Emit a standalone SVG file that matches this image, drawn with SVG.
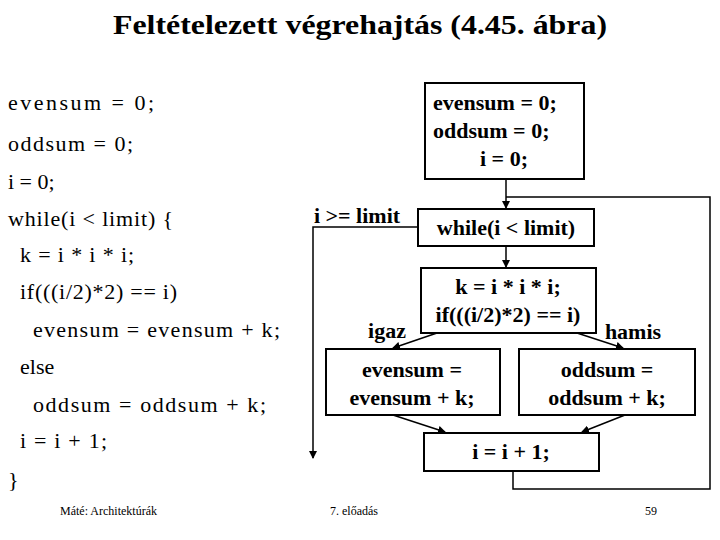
<svg xmlns="http://www.w3.org/2000/svg" width="720" height="540" viewBox="0 0 720 540" font-family="Liberation Serif, Times New Roman, serif">
<defs><marker id="a" markerWidth="8" markerHeight="8" refX="7" refY="4" orient="auto" markerUnits="userSpaceOnUse"><path d="M0,0 L8,4 L0,8 z" fill="#000"/></marker>
<style>
text{font-family:'Liberation Serif','Times New Roman',serif;fill:#000}
.t{font-size:28px;font-weight:bold}
.c{font-size:22px}
.b{font-size:22px;font-weight:bold}
.n{fill:#fff;stroke:#000;stroke-width:2}
.l{fill:none;stroke:#000;stroke-width:1.5}
.f{font-size:12px}
</style></defs>
<rect width="720" height="540" fill="#fff"/>
<text class="t" x="360" y="34" text-anchor="middle" textLength="494" lengthAdjust="spacingAndGlyphs">Feltételezett végrehajtás (4.45. ábra)</text>
<g id="code" class="c">
<text x="8" y="110" textLength="146">evensum = 0;</text>
<text x="8" y="151" textLength="125">oddsum = 0;</text>
<text x="8" y="189">i = 0;</text>
<text x="8" y="226" textLength="165">while(i &lt; limit) {</text>
<text x="20" y="262" textLength="114">k = i * i * i;</text>
<text x="20" y="299" textLength="157">if(((i/2)*2) == i)</text>
<text x="33" y="337" textLength="247">evensum = evensum + k;</text>
<text x="20" y="374">else</text>
<text x="33" y="412" textLength="233">oddsum = oddsum + k;</text>
<text x="20" y="448" textLength="87">i = i + 1;</text>
<text x="8" y="487">}</text>
</g>
<g id="connectors" class="l">
<line x1="506" y1="179" x2="506" y2="208" marker-end="url(#a)"/>
<line x1="506" y1="246" x2="506" y2="267" marker-end="url(#a)"/>
<polyline points="418,227 313,227 313,458" marker-end="url(#a)"/>
<line x1="437" y1="333" x2="393" y2="348" marker-end="url(#a)"/>
<line x1="577" y1="333" x2="623" y2="348" marker-end="url(#a)"/>
<line x1="393" y1="415" x2="445" y2="432" marker-end="url(#a)"/>
<line x1="625" y1="415" x2="582" y2="432" marker-end="url(#a)"/>
<polyline points="513,471 513,489 710,489 710,197 506,197"/>
</g>
<g id="init"><rect class="n" x="425" y="83" width="159" height="96"/>
<text class="b" x="433" y="110">evensum = 0;</text><text class="b" x="433" y="138">oddsum = 0;</text><text class="b" x="504" y="166" text-anchor="middle">i = 0;</text></g>
<g id="while"><rect class="n" x="418" y="209" width="176" height="37"/>
<text class="b" x="506" y="235" text-anchor="middle">while(i &lt; limit)</text></g>
<text class="b" x="357" y="223" text-anchor="middle">i &gt;= limit</text>
<g id="if"><rect class="n" x="421" y="268" width="175" height="65"/>
<text class="b" x="508" y="294" text-anchor="middle">k = i * i * i;</text><text class="b" x="508" y="322" text-anchor="middle">if(((i/2)*2) == i)</text></g>
<text class="b" x="387" y="338" text-anchor="middle">igaz</text>
<text class="b" x="633" y="339" text-anchor="middle">hamis</text>
<g id="even"><rect class="n" x="326" y="349" width="174" height="66"/>
<text class="b" x="412" y="377" text-anchor="middle">evensum =</text><text class="b" x="412" y="405" text-anchor="middle">evensum + k;</text></g>
<g id="odd"><rect class="n" x="519" y="349" width="176" height="66"/>
<text class="b" x="607" y="377" text-anchor="middle">oddsum =</text><text class="b" x="607" y="405" text-anchor="middle">oddsum + k;</text></g>
<g id="inc"><rect class="n" x="424" y="433" width="175" height="38"/>
<text class="b" x="511" y="459" text-anchor="middle">i = i + 1;</text></g>
<text class="f" x="60" y="515">Máté: Architektúrák</text>
<text class="f" x="330" y="515">7. előadás</text>
<text class="f" x="645" y="515">59</text>
</svg>
